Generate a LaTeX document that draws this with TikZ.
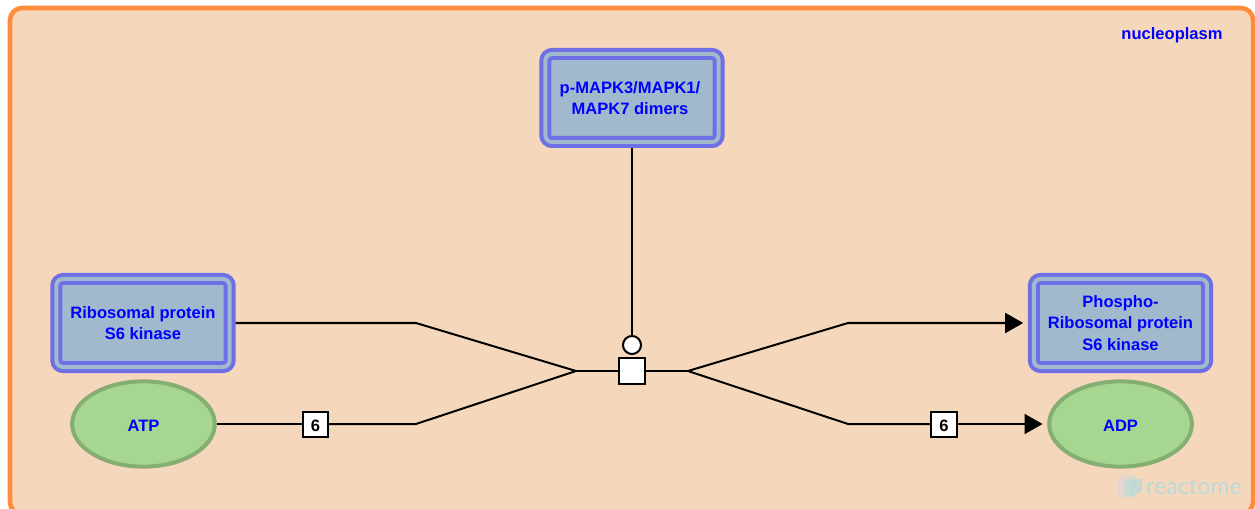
\documentclass[tikz,border=0pt]{standalone}
\usepackage{fontspec}
\setmainfont{Liberation Sans}
\newfontfamily\logofont{Lato}
\usetikzlibrary{arrows.meta,shapes.geometric}
\definecolor{compfill}{HTML}{F5D7BB}
\definecolor{compline}{HTML}{FF8C3C}
\definecolor{complexfill}{HTML}{A0B9CD}
\definecolor{complexline}{HTML}{6E6EE6}
\definecolor{chemfill}{HTML}{A6D690}
\definecolor{chemline}{HTML}{85AE72}
\definecolor{logoline}{HTML}{BCD9D9}
\tikzset{
  complexbox/.style={draw=complexline, fill=complexfill, line width=3pt, double=complexfill, double distance=3pt,
    rounded corners=5pt, align=center, text=blue, font=\bfseries\fontsize{12.4}{16}\selectfont,
    inner sep=0pt, outer sep=4.5pt, execute at begin node={\vspace*{1.5pt}}},
  chem/.style={ellipse, draw=chemline, fill=chemfill, line width=3pt, text=blue,
    font=\bfseries\fontsize{12.4}{16}\selectfont, minimum width=107pt, minimum height=64pt,
    inner sep=0pt, outer sep=1.5pt, text height=11pt, text depth=0pt},
  stoich/.style={draw, fill=white, line width=1.5pt, font=\bfseries\fontsize{12.4}{14}\selectfont,
    minimum size=19pt, inner sep=0pt, text height=10pt, text depth=0pt},
  link/.style={draw, line width=1.5pt},
  product/.style={link, -{Triangle[length=13.5pt,width=15pt]}, shorten >=3.5pt},
}
\begin{document}
\begin{tikzpicture}[x=0.75pt,y=-0.75pt]
    \clip (0,0) rectangle (1255,509);
    \fill[white] (0,0) rectangle (1255,509);
    \draw[draw=compline, fill=compfill, line width=3.4pt, rounded corners=9pt] (10,8) rectangle (1253,514);
    \node[text=blue, font=\bfseries\fontsize{12.4}{14}\selectfont] (nucleoplasm) at (1172,35) {nucleoplasm};

    % watermark
    \fill[gray!30, opacity=.6] (1118,477) -- (1130,472) -- (1130,493) -- (1118,497) -- cycle;
    \fill[logoline, opacity=.6] (1124,480) -- (1136,475) -- (1136,494) -- (1124,498) -- cycle;
    \fill[logoline, opacity=.8] (1130,481) -- (1142,478) -- (1142,491) -- (1130,498) -- cycle;
    \node[text=logoline, font=\logofont\fontsize{17.4}{20}\selectfont, inner sep=0pt] (logo) at (1194,487) {reactome};

    \node[complexbox, minimum width=130pt, minimum height=66pt] (dimers) at (632,98) {p-MAPK3/MAPK1/\hspace*{3pt}\\MAPK7 dimers\hspace*{3pt}};
    \node[complexbox, minimum width=130pt, minimum height=66pt] (s6k) at (143,323) {Ribosomal protein\\S6 kinase};
    \node[complexbox, minimum width=130pt, minimum height=66pt] (ps6k) at (1120.5,323) {Phospho-\\Ribosomal protein\\S6 kinase};
    \node[chem] (atp) at (143.5,424) {ATP};
    \node[chem] (adp) at (1120.5,424) {ADP};

    \node[draw, fill=white, line width=1.5pt, minimum size=19.5pt, inner sep=0pt] (reaction) at (632,371) {};
    \node[circle, draw, fill=white, line width=1.5pt, minimum size=13.5pt, inner sep=0pt] (catalyst) at (632,345) {};
    \node[stoich] (atp6) at (315.5,424.5) {6};
    \node[stoich] (adp6) at (944,424.5) {6};

    \coordinate (s6kbend) at (416,323);
    \coordinate (atpbend) at (416,424);
    \coordinate (joinin) at (576,371);
    \coordinate (joinout) at (688,371);
    \coordinate (ps6kbend) at (848,323);
    \coordinate (adpbend) at (848,424);

    \draw[link] (dimers) -- (catalyst);
    \draw[link] (s6k.east |- s6kbend) -- (s6kbend) -- (joinin);
    \draw[link] (atp) -- (atp6.west |- atp);
    \draw[link] (atp6.east |- atpbend) -- (atpbend) -- (joinin);
    \draw[link] (joinin) -- (reaction);
    \draw[link] (reaction) -- (joinout);
    \draw[product] (joinout) -- (ps6kbend) -- (ps6k.west |- ps6kbend);
    \draw[link] (joinout) -- (adpbend) -- (adp6.west |- adpbend);
    \draw[product] (adp6.east |- adp) -- (adp);
\end{tikzpicture}
\end{document}
